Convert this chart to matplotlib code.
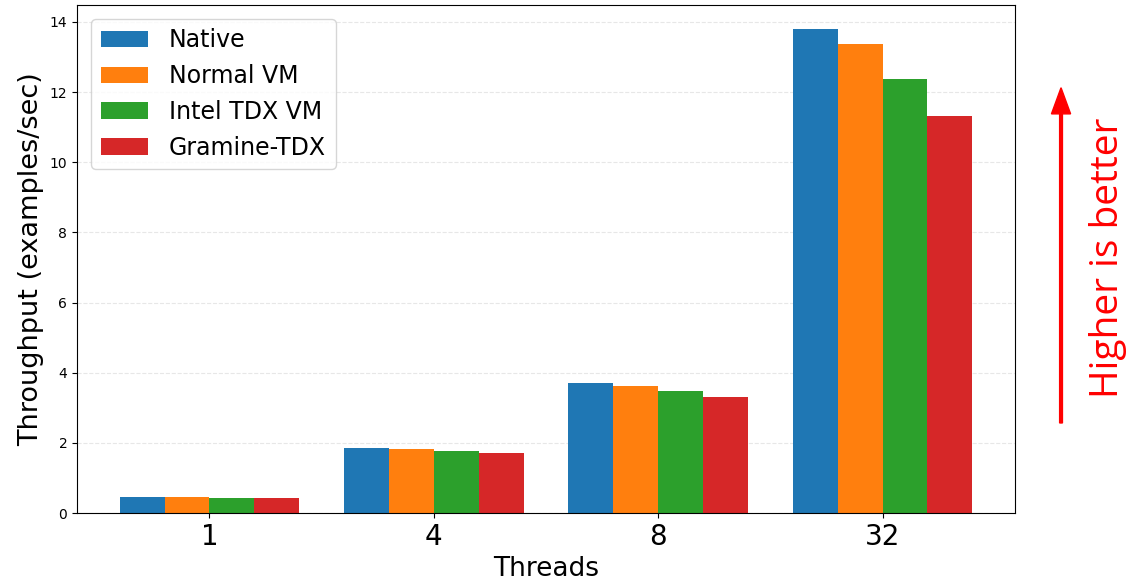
import matplotlib.pyplot as plt
import numpy as np

threads = ['1', '4', '8', '32']
native = [0.45, 1.86, 3.71, 13.80]
normal_vm = [0.45, 1.83, 3.63, 13.37]
tdx_vm = [0.42, 1.77, 3.48, 12.37]
gramine_tdx = [0.43, 1.70, 3.32, 11.31]

series = [('Native', native, '#1f77b4'),
          ('Normal VM', normal_vm, '#ff7f0e'),
          ('Intel TDX VM', tdx_vm, '#2ca02c'),
          ('Gramine-TDX', gramine_tdx, '#d62728')]

fig = plt.figure(figsize=(11.26, 5.81), dpi=100)
ax = fig.add_axes([0.0684, 0.117, 0.833, 0.875])

x = np.arange(len(threads))
width = 0.2
for i, (label, vals, color) in enumerate(series):
    ax.bar(x + (i - 1.5) * width, vals, width, label=label, color=color)

ax.set_xticks(x)
ax.set_xticklabels(threads, fontsize=20)
ax.tick_params(axis='y', labelsize=10)
ax.set_xlabel('Threads', fontsize=19, labelpad=4)
ax.set_ylabel('Throughput (examples/sec)', fontsize=19.5)
ax.yaxis.grid(True, linestyle='--', alpha=0.3)
ax.set_axisbelow(True)
ax.legend(loc='upper left', fontsize=17, handletextpad=0.9,
          borderaxespad=0.6)

# "higher is better" hint on the right
fig.patches.append(plt.matplotlib.patches.FancyArrow(
    0.9423, 0.272, 0, 0.577, width=0.0025, head_width=0.017,
    head_length=0.045, length_includes_head=True, color='red',
    transform=fig.transFigure, figure=fig))
fig.text(0.984, 0.557, 'Higher is better', rotation=90, color='red',
         fontsize=28, family='Open Sans', ha='center', va='center')

fig.savefig('out.png', dpi=100)
